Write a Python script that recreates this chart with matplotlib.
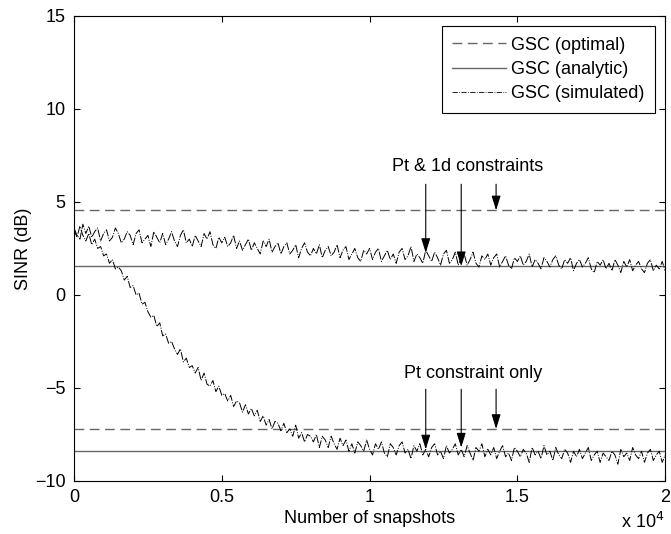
import matplotlib
matplotlib.use("Agg")
import matplotlib.pyplot as plt
import numpy as np
from matplotlib.lines import Line2D

plt.rcParams['font.family'] = ['Liberation Sans', 'DejaVu Sans']
plt.rcParams['font.size'] = 13

# snapshots axis (every 100 snapshots)
snapshots = np.arange(0, 20001, 100)

# levels (dB)
optimal_levels = [4.55, -7.2]
analytic_levels = [1.58, -8.37]

# simulated SINR, Pt & 1d constraints
sim_pt_1d = [
    3.6, 3.2, 3.0, 3.8, 3.3, 3.7, 3.1, 3.4, 3.6, 2.9, 3.3,
    3.5, 2.9, 3.1, 3.6, 3.3, 2.8, 3.0, 3.4, 3.2, 2.7,
    3.3, 3.5, 2.8, 3.0, 3.2, 2.6, 3.4, 3.1, 2.8, 3.3,
    2.7, 3.0, 3.4, 2.9, 2.6, 3.2, 3.5, 2.8, 3.0, 2.6,
    3.2, 2.9, 2.6, 3.3, 3.0, 3.4, 2.7, 2.5, 3.1, 2.8,
    3.1, 2.6, 2.8, 3.2, 2.5, 2.9, 2.4, 2.7, 3.0, 2.4,
    2.8, 2.5, 2.2, 2.9, 2.6, 3.0, 2.3, 2.6, 2.8, 2.2,
    2.6, 2.8, 2.2, 2.4, 2.7, 2.0, 2.5, 2.8, 2.3, 2.1,
    2.5, 2.2, 2.7, 2.0, 2.4, 2.6, 2.1, 2.3, 2.7, 2.0,
    2.4, 2.6, 1.9, 2.2, 2.5, 2.0, 1.8, 2.4, 2.2, 2.5,
    1.9, 2.3, 2.5, 1.8, 2.1, 2.4, 1.9, 2.2, 1.7, 2.3,
    2.5, 1.9, 2.1, 2.6, 1.8, 2.2, 2.0, 1.7, 2.4, 2.1,
    1.8, 2.3, 2.0, 1.6, 2.2, 2.4, 1.7, 1.9, 2.3, 1.6,
    2.0, 2.2, 1.6, 1.9, 2.3, 1.7, 1.5, 2.1, 1.9, 2.2,
    1.6, 2.0, 2.2, 1.5, 1.8, 2.1, 1.6, 1.4, 2.0, 1.8,
    2.1, 1.6, 1.8, 2.2, 1.5, 1.9, 1.7, 1.4, 2.0, 1.8,
    1.5, 1.9, 2.1, 1.6, 1.4, 1.9, 1.7, 2.0, 1.3, 1.7,
    1.9, 1.5, 1.7, 2.0, 1.4, 1.2, 1.8, 1.6, 1.9, 1.4,
    1.7, 1.3, 1.9, 1.6, 1.2, 1.8, 1.5, 1.9, 1.3, 1.6,
    1.8, 1.4, 1.2, 1.7, 1.9, 1.3, 1.6, 1.4, 1.8, 1.3,
]

# simulated SINR, Pt constraint only
sim_pt_only = [
    3.5, 3.1, 3.7, 3.2, 2.9, 3.3, 2.7, 3.0, 2.5, 2.6, 2.1,
    2.2, 1.7, 1.9, 1.4, 1.5, 1.3, 0.8, 1.0, 0.4, 0.5,
    0.0, 0.1, -0.5, -0.4, -0.9, -1.2, -1.1, -1.7, -1.5, -2.2,
    -2.1, -2.6, -2.5, -2.9, -3.2, -2.9, -3.6, -3.4, -3.9, -3.8,
    -4.2, -3.9, -4.6, -4.2, -4.8, -4.9, -4.6, -5.2, -4.9, -5.4,
    -5.3, -5.7, -5.4, -6.0, -5.7, -5.8, -6.3, -5.9, -6.4, -6.1,
    -6.5, -6.2, -6.8, -6.5, -7.0, -6.7, -7.2, -6.8, -6.9, -7.3,
    -6.9, -7.4, -7.2, -7.6, -7.0, -7.7, -7.4, -7.9, -7.5, -7.6,
    -7.9, -7.5, -8.2, -7.6, -7.8, -8.2, -7.6, -8.0, -8.3, -7.7,
    -8.1, -7.8, -8.4, -8.0, -8.5, -7.9, -8.1, -8.4, -7.8, -8.3,
    -8.6, -8.0, -8.3, -7.9, -8.5, -8.7, -8.0, -8.2, -8.6, -8.1,
    -7.9, -8.5, -8.3, -8.8, -8.1, -8.4, -8.0, -8.6, -8.3, -8.7,
    -8.2, -8.0, -8.6, -8.4, -8.8, -8.1, -8.5, -8.3, -8.0, -8.6,
    -8.3, -8.7, -8.1, -8.5, -8.9, -8.2, -8.4, -8.0, -8.7, -8.3,
    -8.6, -8.2, -8.8, -8.4, -8.1, -8.7, -8.5, -8.9, -8.2, -8.4,
    -8.7, -8.3, -8.5, -9.0, -8.2, -8.6, -8.4, -8.8, -8.1, -8.6,
    -8.4, -8.9, -8.2, -8.6, -8.8, -8.3, -8.5, -9.0, -8.4, -8.7,
    -8.3, -8.8, -8.5, -8.2, -8.9, -8.6, -8.4, -9.0, -8.5, -8.7,
    -8.9, -8.4, -8.6, -9.1, -8.3, -8.7, -8.5, -8.9, -8.2, -8.6,
    -8.8, -8.4, -9.0, -8.5, -8.3, -8.9, -8.6, -8.4, -9.0, -8.6,
]

# annotation arrows: x positions and tip values
arrow_x = [11900, 13100, 14280]
tips_pt_1d = [2.26, 1.55, 4.55]
tips_pt_only = [-8.3, -8.2, -7.2]
arrow_top = [5.95, -5.07]
labels = ['Pt & 1d constraints', 'Pt constraint only']
label_pos = [(13300, 6.9), (13500, -4.2)]

fig = plt.figure(figsize=(6.71, 5.34), dpi=100)
ax = fig.add_axes([0.1103, 0.0993, 0.881, 0.871])

gray = '0.4'
sim_dash = (0, (8, 1.5, 1, 1.5))
for lv in optimal_levels:
    ax.axhline(lv, color=gray, lw=1.0, ls=(0, (7, 4)))
for lv in analytic_levels:
    ax.axhline(lv, color=gray, lw=1.0)
ax.plot(snapshots, sim_pt_1d, color='k', lw=0.7, ls=sim_dash)
ax.plot(snapshots, sim_pt_only, color='k', lw=0.7, ls=sim_dash)

for tips, top, lab, pos in zip([tips_pt_1d, tips_pt_only], arrow_top, labels, label_pos):
    ax.text(pos[0], pos[1], lab, ha='center', va='center')
    for xa, yt in zip(arrow_x, tips):
        ax.annotate('', xy=(xa, yt), xytext=(xa, top),
                    arrowprops=dict(arrowstyle='-|>,head_length=0.8,head_width=0.25',
                                    color='k', lw=0.8, shrinkA=0, shrinkB=0,
                                    mutation_scale=11))

ax.set_xlim(0, 20000)
ax.set_ylim(-10, 15)
ax.set_xticks([0, 5000, 10000, 15000, 20000])
ax.set_xticklabels(['0', '0.5', '1', '1.5', '2'])
ax.set_yticks([-10, -5, 0, 5, 10, 15])
ax.set_yticklabels(['\u221210', '\u22125', '0', '5', '10', '15'])
ax.tick_params(direction='in', top=True, right=True, length=4, width=0.8, pad=6)
for s in ax.spines.values():
    s.set_linewidth(0.8)

ax.set_xlabel('Number of snapshots', labelpad=3)
ax.set_ylabel('SINR (dB)', labelpad=2.5)
fig.text(0.958, 0.022, 'x 10$^4$', ha='center', va='center', fontsize=13)

handles = [Line2D([], [], color=gray, lw=1.0, ls=(0, (7, 4))),
           Line2D([], [], color=gray, lw=1.0),
           Line2D([], [], color='k', lw=0.6, ls='-.')]
leg = ax.legend(handles, ['GSC (optimal)', 'GSC (analytic)', 'GSC (simulated)'],
                loc='upper right', fancybox=False, framealpha=1, edgecolor='k',
                handlelength=2.95, handletextpad=0.3, labelspacing=0.4,
                borderaxespad=0.55, borderpad=0.6)
leg.get_frame().set_linewidth(0.8)

fig.savefig('out.png', dpi=100)
